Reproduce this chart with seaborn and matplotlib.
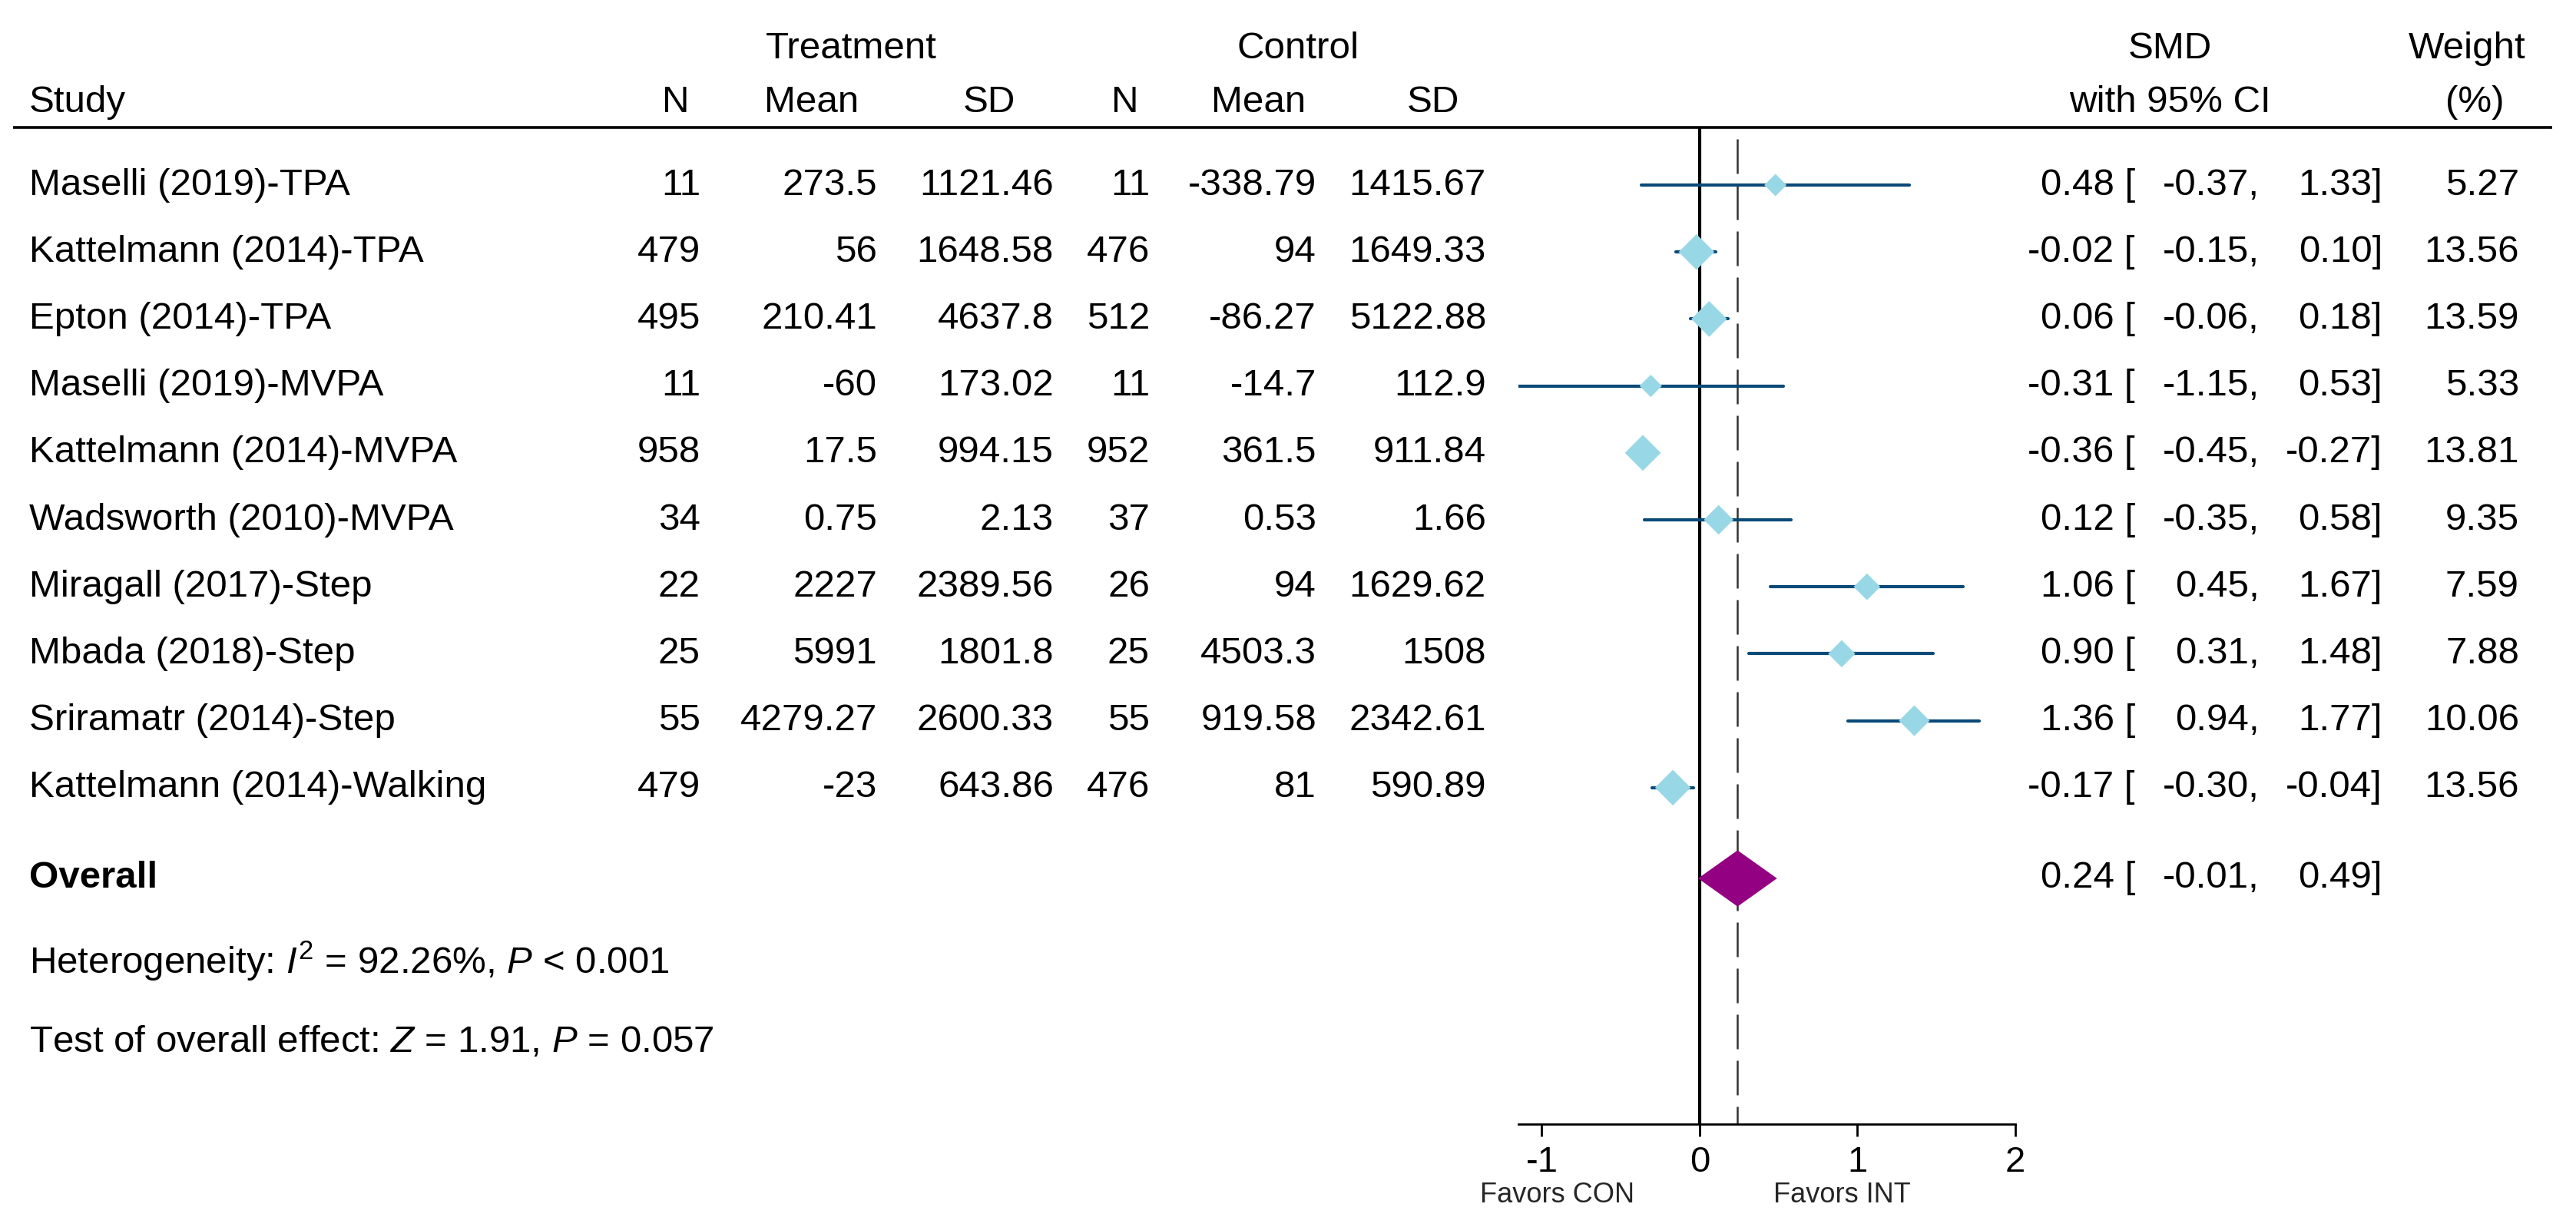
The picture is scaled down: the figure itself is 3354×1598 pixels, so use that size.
import numpy as np
import pandas as pd
import matplotlib
matplotlib.use("Agg")
import matplotlib.pyplot as plt
import matplotlib.transforms as mtransforms
import seaborn as sns

# ---------------- data ----------------
studies = ["Maselli (2019)-TPA", "Kattelmann (2014)-TPA", "Epton (2014)-TPA",
           "Maselli (2019)-MVPA", "Kattelmann (2014)-MVPA", "Wadsworth (2010)-MVPA",
           "Miragall (2017)-Step", "Mbada (2018)-Step", "Sriramatr (2014)-Step",
           "Kattelmann (2014)-Walking"]
treat_n = [11, 479, 495, 11, 958, 34, 22, 25, 55, 479]
treat_mean = [273.5, 56, 210.41, -60, 17.5, 0.75, 2227, 5991, 4279.27, -23]
treat_sd = [1121.46, 1648.58, 4637.8, 173.02, 994.15, 2.13, 2389.56, 1801.8, 2600.33, 643.86]
ctrl_n = [11, 476, 512, 11, 952, 37, 26, 25, 55, 476]
ctrl_mean = [-338.79, 94, -86.27, -14.7, 361.5, 0.53, 94, 4503.3, 919.58, 81]
ctrl_sd = [1415.67, 1649.33, 5122.88, 112.9, 911.84, 1.66, 1629.62, 1508, 2342.61, 590.89]
smd = [0.48, -0.02, 0.06, -0.31, -0.36, 0.12, 1.06, 0.90, 1.36, -0.17]
ci_low = [-0.37, -0.15, -0.06, -1.15, -0.45, -0.35, 0.45, 0.31, 0.94, -0.30]
ci_high = [1.33, 0.10, 0.18, 0.53, -0.27, 0.58, 1.67, 1.48, 1.77, -0.04]
weight = [5.27, 13.56, 13.59, 5.33, 13.81, 9.35, 7.59, 7.88, 10.06, 13.56]
overall_smd, overall_low, overall_high = 0.24, -0.01, 0.49
het_i2, het_p = 92.26, "< 0.001"
test_z, test_p = 1.91, "0.057"
xticks = [-1, 0, 1, 2]
favors_labels = ["Favors CON", "Favors INT"]

# ---------------- style ----------------
sns.set_theme(style="white")
plt.rcParams["font.family"] = ["Liberation Sans", "DejaVu Sans"]
plt.rcParams["mathtext.fontset"] = "custom"
plt.rcParams["mathtext.rm"] = "Liberation Sans"
plt.rcParams["mathtext.it"] = "Liberation Sans:italic"
plt.rcParams["mathtext.bf"] = "Liberation Sans:bold"
plt.rcParams["axes.unicode_minus"] = False

W, H = 3355, 1598
fig = plt.figure(figsize=(W / 100, H / 100), dpi=100)
fig.patch.set_facecolor("white")

# forest panel geometry (pixels)
x0_px, unit_px = 2213, 205.5
xmin, xmax = -1.15, 2.0
left_px = x0_px + xmin * unit_px
right_px = x0_px + xmax * unit_px
top_px, bottom_px = 166, 1464
ax = fig.add_axes([left_px / W, 1 - bottom_px / H,
                   (right_px - left_px) / W, (bottom_px - top_px) / H])
ax.patch.set_visible(False)

row0_px, row_px = 241, 87.2
def row_of(px):
    return (px - row0_px) / row_px

y_top = row_of(top_px)
y_bot = row_of(bottom_px)
ax.set_xlim(xmin, xmax)
ax.set_ylim(y_bot, y_top)

rows = np.arange(len(studies))
df = pd.DataFrame({"study": studies, "smd": smd, "lo": ci_low, "hi": ci_high,
                   "weight": weight, "row": rows})

FS = 35.5
trans = mtransforms.blended_transform_factory(fig.transFigure, ax.transData)

# reference lines
ax.axvline(0, color="black", lw=3.0, zorder=1)
ax.vlines(overall_smd, row_of(181), y_bot, color="#333333", lw=1.8,
          linestyles=(0, (18, 6)), zorder=1)

# CIs
lc = ax.hlines(df["row"], df["lo"], df["hi"], color="#0a4a78", lw=3.0, zorder=2)
lc.set_capstyle("round")

# study diamonds sized by weight
smax = 570.0
sns.scatterplot(data=df, x="smd", y="row", size="weight",
                sizes=(smax * min(weight) / max(weight), smax),
                size_norm=(min(weight), max(weight)),
                marker="D", color="#98d8e6", linewidth=0, legend=False,
                ax=ax, zorder=3)

# overall diamond
ov_row = row_of(1144)
hh = 0.42
ax.fill([overall_low, overall_smd, overall_high, overall_smd],
        [ov_row, ov_row - hh, ov_row, ov_row + hh],
        color="#940082", lw=0, zorder=4)

# axis styling
for s in ["top", "left", "right"]:
    ax.spines[s].set_visible(False)
ax.spines["bottom"].set_linewidth(2.0)
ax.spines["bottom"].set_color("black")
ax.set_xticks(xticks)
ax.set_xticklabels([str(t) for t in xticks])
ax.set_yticks([])
ax.tick_params(axis="x", direction="out", length=11.5, width=2.0, pad=9,
               labelsize=34, colors="black", bottom=True)
ax.set_xlabel("")
ax.set_ylabel("")
ax.grid(False)

fav_row = row_of(1557)
ax.text(-0.9, fav_row, favors_labels[0], ha="center", va="center", fontsize=26,
        clip_on=False)
ax.text(0.9, fav_row, favors_labels[1], ha="center", va="center", fontsize=26,
        clip_on=False)

# header line
ax.plot([17 / W, 3323 / W], [y_top, y_top], transform=trans, color="black",
        lw=2.6, clip_on=False, solid_capstyle="butt")

def put(px, y, s, ha="right", **kw):
    ax.text(px / W, y, s, transform=trans, ha=ha, va="center", fontsize=FS,
            color="black", clip_on=False, **kw)

# headers
h1, h2 = row_of(64), row_of(133)
put(1108, h1, "Treatment", ha="center")
put(1690, h1, "Control", ha="center")
put(2825, h1, "SMD", ha="center")
put(3212, h1, "Weight", ha="center")
put(38, h2, "Study", ha="left")
for px, lab in [(880, "N"), (1057, "Mean"), (1288, "SD"),
                (1465, "N"), (1639, "Mean"), (1866, "SD")]:
    put(px, h2, lab, ha="center")
put(2825, h2, "with 95% CI", ha="center")
put(3222, h2, "(%)", ha="center")

# table rows
cols = [(912, treat_n), (1142, treat_mean), (1372, treat_sd),
        (1497, ctrl_n), (1714, ctrl_mean), (1935, ctrl_sd)]
for i, r in enumerate(rows):
    put(38, r, studies[i], ha="left")
    for px, vals in cols:
        put(px, r, f"{vals[i]:g}")
    put(2780, r, f"{smd[i]:.2f} [")
    put(2942, r, f"{ci_low[i]:.2f},")
    put(3102, r, f"{ci_high[i]:.2f}]")
    put(3280, r, f"{weight[i]:.2f}")

# overall rows
put(38, ov_row, "Overall", ha="left", fontweight="bold")
put(2780, ov_row, f"{overall_smd:.2f} [")
put(2942, ov_row, f"{overall_low:.2f},")
put(3102, ov_row, f"{overall_high:.2f}]")
put(38, row_of(1252), f"Heterogeneity: $I^{{2}}$ = {het_i2:.2f}%, $P$ {het_p}", ha="left")
put(38, row_of(1358), f"Test of overall effect: $Z$ = {test_z:.2f}, $P$ = {test_p}", ha="left")

fig.savefig("out.png", dpi=100, facecolor="white")
